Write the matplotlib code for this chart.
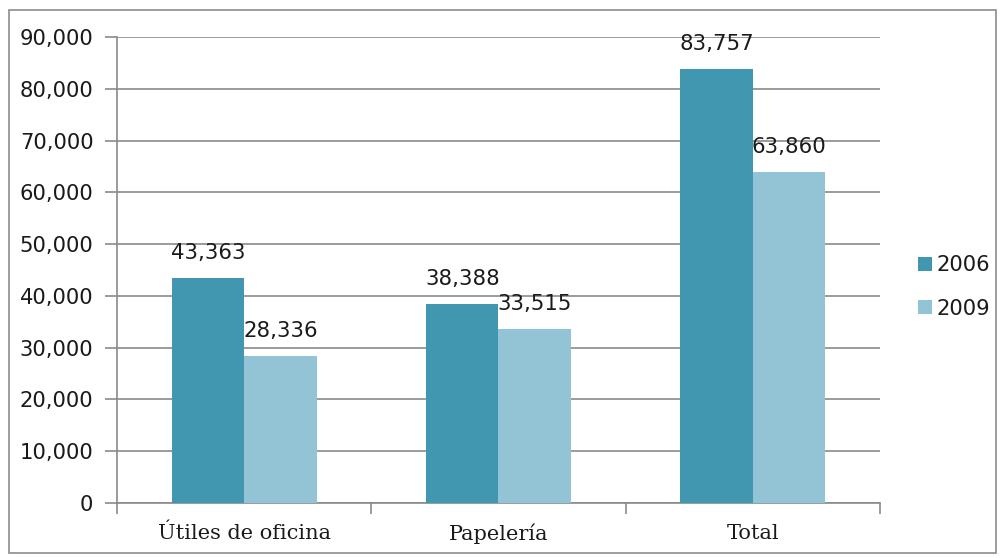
import matplotlib
matplotlib.use("Agg")
import matplotlib.pyplot as plt
from matplotlib.patches import Rectangle
from matplotlib.ticker import FuncFormatter, MultipleLocator
import numpy as np

categories = ["Útiles de oficina", "Papelería", "Total"]
series_names = ["2006", "2009"]
values_2006 = [43363, 38388, 83757]
values_2009 = [28336, 33515, 63860]
colors = ["#4197AF", "#93C4D5"]

W, H = 1004, 558
fig = plt.figure(figsize=(W / 100, H / 100), dpi=100)
fig.patch.set_facecolor("white")
ax = fig.add_axes([117 / W, 1 - 503 / H, (880 - 117) / W, (503 - 37) / H])

# outer chart border
fig.patches.append(Rectangle((9 / W, 5 / H), (996 - 9) / W, (548 - 5) / H,
                             transform=fig.transFigure, fill=False,
                             edgecolor="#8c8c8c", linewidth=1.2))

x = np.arange(len(categories))
bw = 0.285
series = [values_2006, values_2009]
sans = "DejaVu Sans"
serif = "DejaVu Serif"
txtc = "#1a1a1a"
for i, (vals, name, c) in enumerate(zip(series, series_names, colors)):
    pos = x + (i - 0.5) * bw
    ax.bar(pos, vals, width=bw, color=c, label=name, zorder=3)
    for p, v in zip(pos, vals):
        ax.annotate(f"{v:,}", (p, v), xytext=(0, 11), textcoords="offset points",
                    ha="center", va="bottom", fontsize=15.3, family=sans,
                    color=txtc, annotation_clip=False)

ax.set_xlim(-0.5, 2.5)
ax.set_ylim(0, 90000)
ax.yaxis.set_major_locator(MultipleLocator(10000))
ax.yaxis.set_major_formatter(FuncFormatter(lambda v, p: f"{int(v):,}"))
ax.grid(axis="y", color="#8a8a8a", linewidth=1.2, zorder=0)
ax.set_axisbelow(True)

ax.set_xticks(x)
ax.set_xticklabels(categories, family=serif, fontsize=15, color=txtc)
ax.tick_params(axis="x", length=0, pad=15)
ax.set_xticks([-0.5, 0.5, 1.5, 2.5], minor=True)
ax.tick_params(axis="x", which="minor", length=8, color="#8a8a8a", width=1.2)
ax.tick_params(axis="y", length=9, color="#8a8a8a", width=1.2, labelsize=15.2,
               pad=8, labelcolor=txtc)
for lab in ax.get_yticklabels():
    lab.set_family(sans)

for s in ["top", "right"]:
    ax.spines[s].set_visible(False)
for s in ["left", "bottom"]:
    ax.spines[s].set_color("#8a8a8a")
    ax.spines[s].set_linewidth(1.2)

leg = ax.legend(loc="center left", bbox_to_anchor=(918 / W, 1 - 287 / H),
                bbox_transform=fig.transFigure, frameon=False,
                prop={"family": sans, "size": 15.2}, handlelength=0.65,
                handleheight=0.6, handletextpad=0.25, labelspacing=1.1,
                borderpad=0, borderaxespad=0)
for t in leg.get_texts():
    t.set_color(txtc)

fig.savefig("out.png", dpi=100, facecolor="white")
